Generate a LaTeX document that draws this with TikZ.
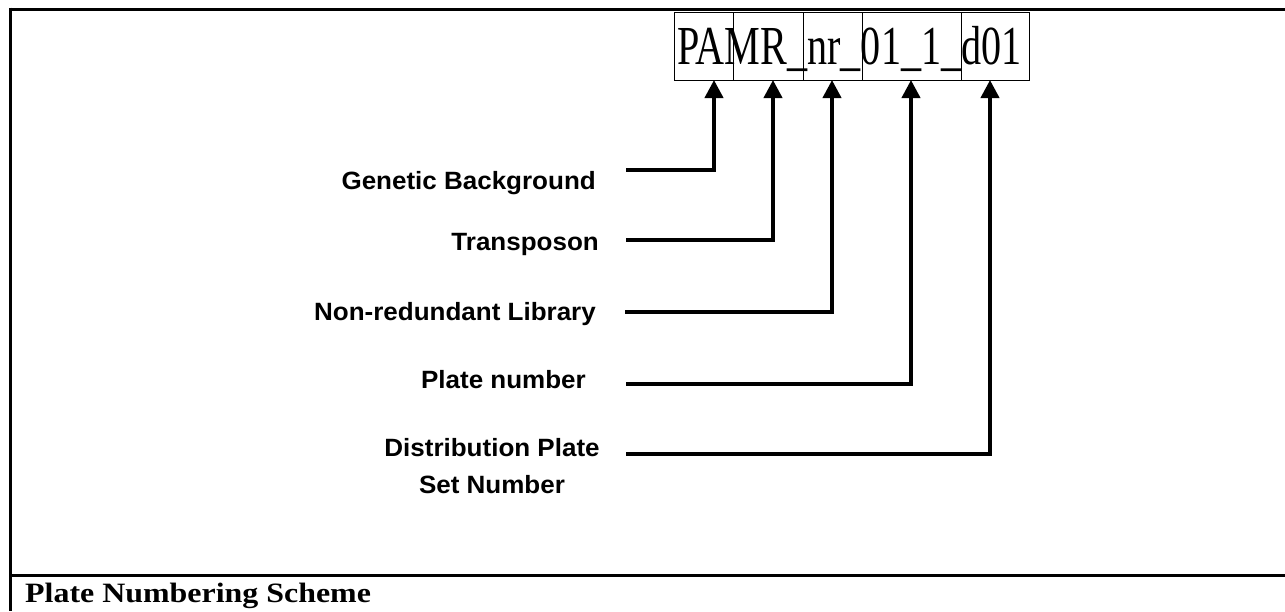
\documentclass[tikz,border=0pt]{standalone}
\usepackage{fontspec}
\setmainfont{Liberation Serif}
\newfontfamily\lsans{Liberation Sans}
\usetikzlibrary{arrows.meta}
\newcommand{\lbl}[1]{\scalebox{1.04}[1]{#1}}
\tikzset{
  frameline/.style={line width=3pt},
  cell/.style={draw, line width=1.2pt, minimum height=68pt, inner sep=0pt, anchor=north west},
  conn/.style={line width=4pt, line join=miter, -{Triangle[width=18pt,length=18pt]}},
  lab/.style={font=\lsans\bfseries\fontsize{25}{37}\selectfont, inner sep=0pt, anchor=base east},
}
\begin{document}
\begin{tikzpicture}[x=1pt,y=-1pt]
\useasboundingbox (0,0) rectangle (1285,611);
% frame
\draw[frameline] (9,9) -- (1285,9);
\draw[frameline] (10.5,7.5) -- (10.5,611);
\draw[frameline] (9,575) -- (1285,575);
\node[font=\bfseries\fontsize{28}{30}\selectfont, inner sep=0pt, anchor=base west] (title) at (25,602) {\scalebox{1.14}[1]{Plate Numbering Scheme}};
% cells
\node[cell, minimum width=59pt] (c1) at (674,12) {};
\node[cell, minimum width=70pt] (c2) at (733,12) {};
\node[cell, minimum width=59pt] (c3) at (803,12) {};
\node[cell, minimum width=99pt] (c4) at (862,12) {};
\node[cell, minimum width=68pt] (c5) at (961,12) {};
\node[font=\fontsize{55}{60}\selectfont, inner sep=0pt, anchor=base west] (code) at (677,64) {\scalebox{0.73}[1]{PAMR\_nr\_01\_1\_d01}};
% labels
\node[lab] (l1) at (596,189) {\lbl{Genetic Background}};
\node[lab] (l2) at (599,250) {\lbl{Transposon}};
\node[lab] (l3) at (596,320) {\lbl{Non-redundant Library}};
\node[lab] (l4) at (586,388) {\lbl{Plate number}};
\node[lab, anchor=base, align=center] (l5) at (492,493) {\lbl{Distribution Plate}\\\lbl{Set Number}};
% connector starts and targets
\coordinate (s1) at (626,170);
\coordinate (s2) at (626,240);
\coordinate (s3) at (625,312);
\coordinate (s4) at (626,384);
\coordinate (s5) at (626,454);
\coordinate (t1) at (714,80);
\coordinate (t2) at (773,80);
\coordinate (t3) at (832,80);
\coordinate (t4) at (911,80);
\coordinate (t5) at (990,80);
\draw[conn] (s1) -| (t1);
\draw[conn] (s2) -| (t2);
\draw[conn] (s3) -| (t3);
\draw[conn] (s4) -| (t4);
\draw[conn] (s5) -| (t5);
\end{tikzpicture}
\end{document}
